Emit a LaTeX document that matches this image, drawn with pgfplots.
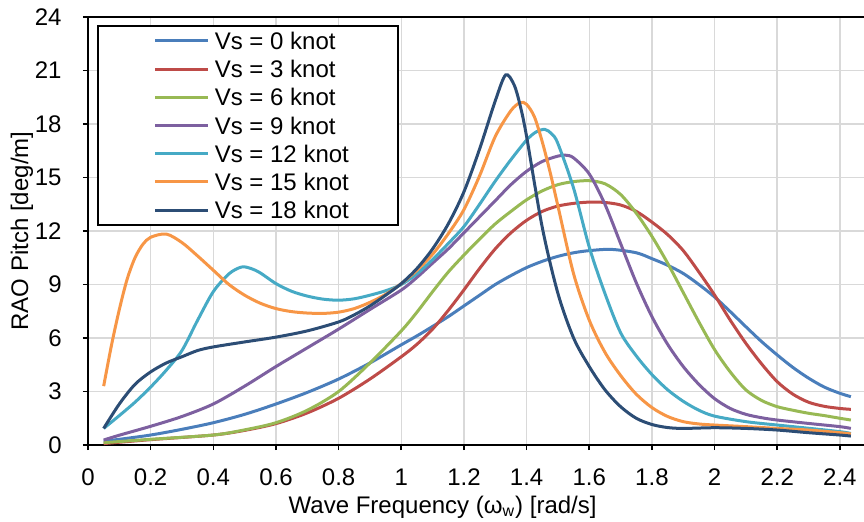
\documentclass[border=0pt]{standalone}
\usepackage{fontspec}
\setmainfont{Liberation Sans}
\usepackage{pgfplots}
\pgfplotsset{compat=1.18}

\definecolor{vzero}{HTML}{4A7EBB}
\definecolor{vthree}{HTML}{BE4B48}
\definecolor{vsix}{HTML}{98B954}
\definecolor{vnine}{HTML}{7D60A0}
\definecolor{vtwelve}{HTML}{46AAC5}
\definecolor{vfifteen}{HTML}{F79646}
\definecolor{veighteen}{HTML}{2C4D75}
\definecolor{gridgray}{HTML}{D9D9D9}
\newcommand{\chartfont}{\fontsize{12}{14}\selectfont}
\pgfplotsset{rao/.style={line width=1.5pt, smooth, #1}}

\begin{document}
\begin{tikzpicture}
\begin{axis}[
  scale only axis, width=388pt, height=214pt,
  xmin=0, xmax=2.477, ymin=0, ymax=24,
  xtick={0,0.2,0.4,0.6,0.8,1,1.2,1.4,1.6,1.8,2,2.2,2.4},
  ytick={0,3,6,9,12,15,18,21,24},
  axis x line*=box, axis y line*=left,
  xtick pos=bottom,
  axis line style={-, black, line width=1pt},
  tick align=outside, major tick length=2.5pt,
  tick style={black, line width=0.8pt},
  grid=major, major grid style={color=gridgray, line width=0.75pt},
  /pgf/number format/assume math mode=true,
  tick label style={font=\chartfont, inner sep=0pt},
  xticklabel style={anchor=center, yshift=-13.5pt},
  yticklabel style={anchor=east, xshift=-10.5pt},
  label style={font=\chartfont},
  xlabel={Wave Frequency (ω\textsubscript{w}) [rad/s]},
  ylabel={RAO Pitch [deg/m]},
  xlabel style={at={(axis description cs:0.457,-0.145)}, anchor=center},
  ylabel style={at={(axis description cs:-0.085,0.5)}, anchor=center},
  legend style={at={(axis description cs:0,1)}, anchor=north west,
    xshift=4.5pt, yshift=-4pt, draw=black, line width=0.8pt,
    inner xsep=24.5pt, inner ysep=0.5pt, font=\chartfont,
    row sep=0pt, column sep=2.5pt,
    nodes={inner sep=0pt, text height=11.3pt, text depth=2.8pt}},
  legend cell align=left,
  legend image code/.code={\path (-3.5pt,0pt); \draw[line width=1.5pt] (0pt,0pt) -- (26.5pt,0pt);},
]
\coordinate (ll) at (rel axis cs:0,0);
\coordinate (ur) at (rel axis cs:1,1);

% Vs = 0 knot
\addplot[rao=vzero] coordinates {
  (0.05,0.22) (0.1,0.32) (0.2,0.56) (0.3,0.88) (0.4,1.25) (0.5,1.72)
  (0.6,2.3) (0.7,2.95) (0.8,3.7) (0.9,4.6) (1.0,5.62) (1.05,6.12)
  (1.1,6.65) (1.15,7.2) (1.2,7.8) (1.25,8.4) (1.3,9.0) (1.35,9.5)
  (1.4,9.95) (1.45,10.3) (1.5,10.58) (1.55,10.78) (1.6,10.9) (1.67,10.97)
  (1.75,10.78) (1.8,10.45) (1.85,10.08) (1.9,9.62) (1.95,9.0) (2.0,8.3)
  (2.05,7.48) (2.1,6.63) (2.15,5.8) (2.2,5.05) (2.25,4.35) (2.3,3.75)
  (2.35,3.25) (2.4,2.9) (2.435,2.71)
};
% Vs = 3 knot
\addplot[rao=vthree] coordinates {
  (0.05,0.08) (0.2,0.3) (0.4,0.56) (0.5,0.82) (0.6,1.2) (0.7,1.8)
  (0.8,2.62) (0.9,3.7) (1.0,4.95) (1.05,5.65) (1.1,6.5) (1.15,7.55)
  (1.2,8.7) (1.25,9.9) (1.3,11.0) (1.35,11.9) (1.4,12.6) (1.45,13.1)
  (1.5,13.4) (1.55,13.55) (1.6,13.62) (1.65,13.6) (1.7,13.46) (1.75,13.1)
  (1.8,12.5) (1.85,11.8) (1.9,10.9) (1.95,9.7) (2.0,8.41) (2.05,7.0)
  (2.1,5.7) (2.15,4.55) (2.2,3.55) (2.25,2.85) (2.3,2.4) (2.35,2.17)
  (2.4,2.05) (2.435,2.0)
};
% Vs = 6 knot
\addplot[rao=vsix] coordinates {
  (0.05,0.13) (0.2,0.32) (0.4,0.56) (0.5,0.85) (0.6,1.25) (0.7,1.95)
  (0.8,3.0) (0.9,4.6) (1.0,6.4) (1.05,7.45) (1.1,8.6) (1.15,9.7)
  (1.2,10.65) (1.25,11.55) (1.3,12.4) (1.35,13.1) (1.4,13.75) (1.45,14.25)
  (1.5,14.6) (1.55,14.77) (1.6,14.82) (1.65,14.65) (1.7,14.05) (1.75,13.0)
  (1.8,11.7) (1.85,10.2) (1.9,8.55) (1.95,6.9) (2.0,5.35) (2.05,4.1)
  (2.1,3.09) (2.15,2.5) (2.2,2.15) (2.25,1.95) (2.3,1.78) (2.35,1.65)
  (2.4,1.5) (2.435,1.4)
};
% Vs = 9 knot
\addplot[rao=vnine] coordinates {
  (0.05,0.28) (0.1,0.55) (0.2,1.05) (0.3,1.6) (0.4,2.3) (0.5,3.3)
  (0.6,4.4) (0.7,5.45) (0.8,6.5) (0.9,7.6) (1.0,8.69) (1.05,9.4)
  (1.1,10.2) (1.15,11.0) (1.2,11.9) (1.25,12.8) (1.3,13.7) (1.35,14.6)
  (1.4,15.35) (1.45,15.9) (1.5,16.2) (1.525,16.25) (1.55,16.1) (1.6,15.2)
  (1.65,13.5) (1.7,11.3) (1.75,9.1) (1.8,7.2) (1.85,5.65) (1.9,4.4)
  (1.95,3.4) (2.0,2.6) (2.05,2.05) (2.1,1.72) (2.15,1.53) (2.2,1.4)
  (2.3,1.21) (2.4,1.03) (2.435,0.93)
};
% Vs = 12 knot
\addplot[rao=vtwelve] coordinates {
  (0.05,0.93) (0.1,1.65) (0.15,2.4) (0.2,3.25) (0.25,4.2) (0.3,5.3)
  (0.35,7.0) (0.4,8.6) (0.45,9.6) (0.49,9.98) (0.52,9.9) (0.55,9.65)
  (0.6,9.05) (0.65,8.62) (0.7,8.35) (0.75,8.18) (0.8,8.12) (0.85,8.2)
  (0.9,8.4) (0.95,8.65) (1.0,9.0) (1.05,9.6) (1.1,10.4) (1.15,11.3)
  (1.2,12.25) (1.25,13.5) (1.3,14.8) (1.35,16.0) (1.4,17.1) (1.43,17.55)
  (1.458,17.7) (1.48,17.45) (1.5,16.9) (1.55,14.4) (1.6,11.1) (1.65,8.5)
  (1.7,6.3) (1.75,5.0) (1.8,3.95) (1.85,3.1) (1.9,2.45) (1.95,1.95)
  (2.0,1.62) (2.1,1.31) (2.2,1.12) (2.3,0.94) (2.4,0.75) (2.435,0.65)
};
% Vs = 15 knot
\addplot[rao=vfifteen] coordinates {
  (0.05,3.3) (0.075,5.6) (0.1,7.6) (0.125,9.3) (0.15,10.5) (0.175,11.25)
  (0.2,11.65) (0.25,11.83) (0.3,11.35) (0.35,10.6) (0.4,9.8) (0.45,9.0)
  (0.5,8.4) (0.55,7.95) (0.6,7.65) (0.65,7.48) (0.7,7.4) (0.75,7.38)
  (0.8,7.45) (0.85,7.65) (0.9,8.0) (0.95,8.45) (1.0,9.05) (1.05,9.8)
  (1.1,10.7) (1.15,11.85) (1.2,13.2) (1.25,15.1) (1.3,17.3) (1.35,18.75)
  (1.38,19.2) (1.4,19.1) (1.425,18.4) (1.45,17.0) (1.475,15.3) (1.5,13.4)
  (1.55,9.6) (1.6,7.0) (1.65,5.2) (1.7,3.9) (1.75,2.85) (1.8,2.1)
  (1.85,1.6) (1.9,1.31) (1.95,1.18) (2.0,1.12) (2.1,1.03) (2.2,0.93)
  (2.3,0.84) (2.4,0.69) (2.435,0.62)
};
% Vs = 18 knot
\addplot[rao=veighteen] coordinates {
  (0.05,0.93) (0.1,2.3) (0.15,3.4) (0.2,4.1) (0.25,4.6) (0.3,4.95)
  (0.35,5.3) (0.4,5.5) (0.5,5.78) (0.6,6.05) (0.7,6.4) (0.8,6.9)
  (0.85,7.3) (0.9,7.8) (0.95,8.4) (1.0,9.05) (1.05,9.9) (1.1,11.0)
  (1.15,12.4) (1.2,14.2) (1.25,16.6) (1.3,19.3) (1.333,20.75) (1.36,20.2)
  (1.38,19.0) (1.4,17.3) (1.45,12.2) (1.5,8.5) (1.55,6.0) (1.6,4.4)
  (1.65,3.1) (1.7,2.15) (1.75,1.5) (1.8,1.15) (1.85,0.98) (1.9,0.93)
  (2.0,0.97) (2.1,0.93) (2.2,0.84) (2.3,0.69) (2.4,0.56) (2.435,0.5)
};
\legend{Vs = 0 knot, Vs = 3 knot, Vs = 6 knot, Vs = 9 knot,
  Vs = 12 knot, Vs = 15 knot, Vs = 18 knot}
\end{axis}
\pgfresetboundingbox
\path ([xshift=-44pt,yshift=-38pt]ll) rectangle ([yshift=8.5pt]ur);
\end{tikzpicture}
\end{document}
